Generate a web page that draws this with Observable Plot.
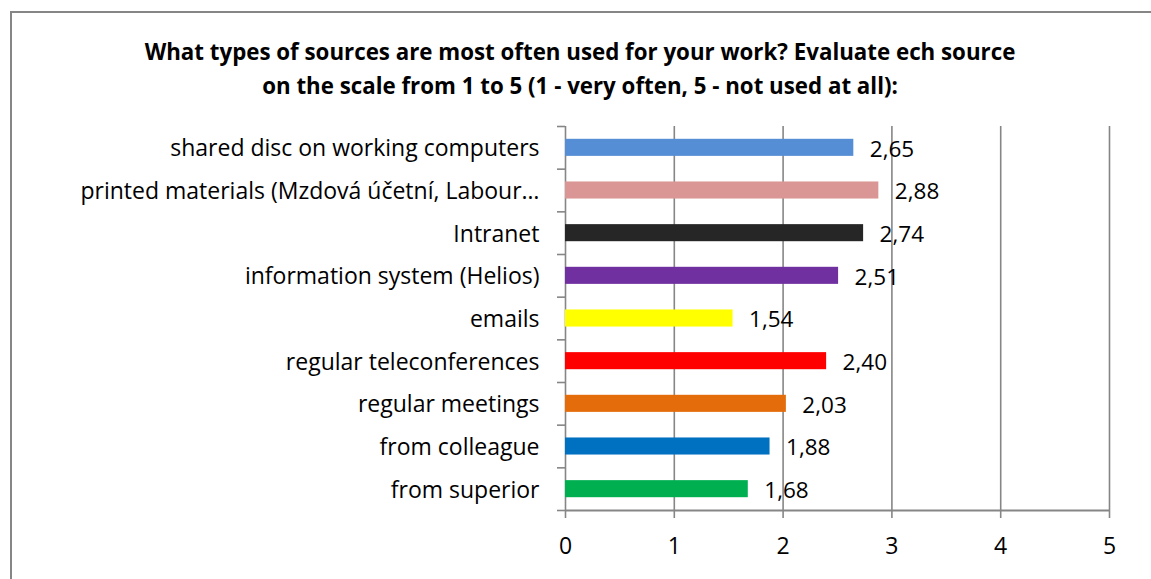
<!DOCTYPE html>
<html><head><meta charset="utf-8">
<script src="https://cdn.jsdelivr.net/npm/d3@7"></script>
<script src="https://cdn.jsdelivr.net/npm/@observablehq/plot@0.6"></script>
<style>
body{margin:0;background:#fff;}
#wrap{position:relative;width:1151px;height:579px;overflow:hidden;font-family:"Open Sans",sans-serif;background:#fff;}
#frame{position:absolute;left:10px;top:11px;width:1170px;height:620px;border:2px solid #868686;box-sizing:border-box;}
#title{position:absolute;left:0;width:1160px;top:35px;text-align:center;font-weight:bold;font-size:22.3px;line-height:34px;color:#000;white-space:nowrap;}
#chart{position:absolute;left:0;top:0;}
</style></head>
<body>
<div id="wrap">
  <div id="frame"></div>
  <div id="chart"></div>
  <div id="title">What types of sources are most often used for your work? Evaluate ech source<br>on the scale from 1 to 5 (1 - very often, 5 - not used at all):</div>
</div>
<script>
const categories = [
  "shared disc on working computers",
  "printed materials (Mzdová účetní, Labour…",
  "Intranet",
  "information system (Helios)",
  "emails",
  "regular teleconferences",
  "regular meetings",
  "from colleague",
  "from superior"
];
const values = [2.65, 2.88, 2.74, 2.51, 1.54, 2.40, 2.03, 1.88, 1.68];
const colors = ["#558ED5", "#D99694", "#262626", "#7030A0", "#FFFF00", "#FF0000", "#E46C0A", "#0070C0", "#00B050"];
const xTicks = [0, 1, 2, 3, 4, 5];

const data = categories.map((c, i) => ({category: c, index: i, value: values[i], color: colors[i]}));
const idx = categories.map((_, i) => i);
const bounds = d3.range(categories.length + 1).map(i => i - 0.5);
const fmt = v => d3.format(".2f")(v).replace(".", ",");
const grid = "#868686";

const chart = Plot.plot({
  width: 1151, height: 579,
  marginLeft: 565, marginRight: 42, marginTop: 126, marginBottom: 69,
  style: {fontFamily: "'Open Sans', sans-serif", fontSize: "23px", color: "#000", background: "transparent"},
  x: {domain: [0, 5], label: null},
  y: {domain: [-0.5, categories.length - 0.5], reverse: true, label: null},
  color: {type: "identity"},
  marks: [
    Plot.gridX(xTicks, {stroke: grid, strokeOpacity: 1, strokeWidth: 1.6}),
    Plot.rectX(data, {x1: 0, x2: "value", y1: d => d.index - 0.2, y2: d => d.index + 0.2, fill: "color"}),
    Plot.text(data, {x: "value", y: "index", text: d => fmt(d.value), textAnchor: "start", dx: 16, dy: 1.5, fontSize: 22.5, fill: "#000"}),
    Plot.ruleY([categories.length - 0.5], {stroke: grid, strokeWidth: 2}),
    Plot.axisY(bounds, {tickSize: 8, tickFormat: () => "", stroke: grid, strokeWidth: 1.6, label: null}),
    Plot.axisY(idx, {tickSize: 0, tickPadding: 26, tickFormat: i => categories[i], fontSize: 23, dy: 1, label: null}),
    Plot.axisX(xTicks, {tickSize: 8, tickPadding: 19, stroke: grid, strokeWidth: 1.6, fontSize: 23, label: null})
  ]
});
document.getElementById("chart").appendChild(chart);
</script>
</body></html>
